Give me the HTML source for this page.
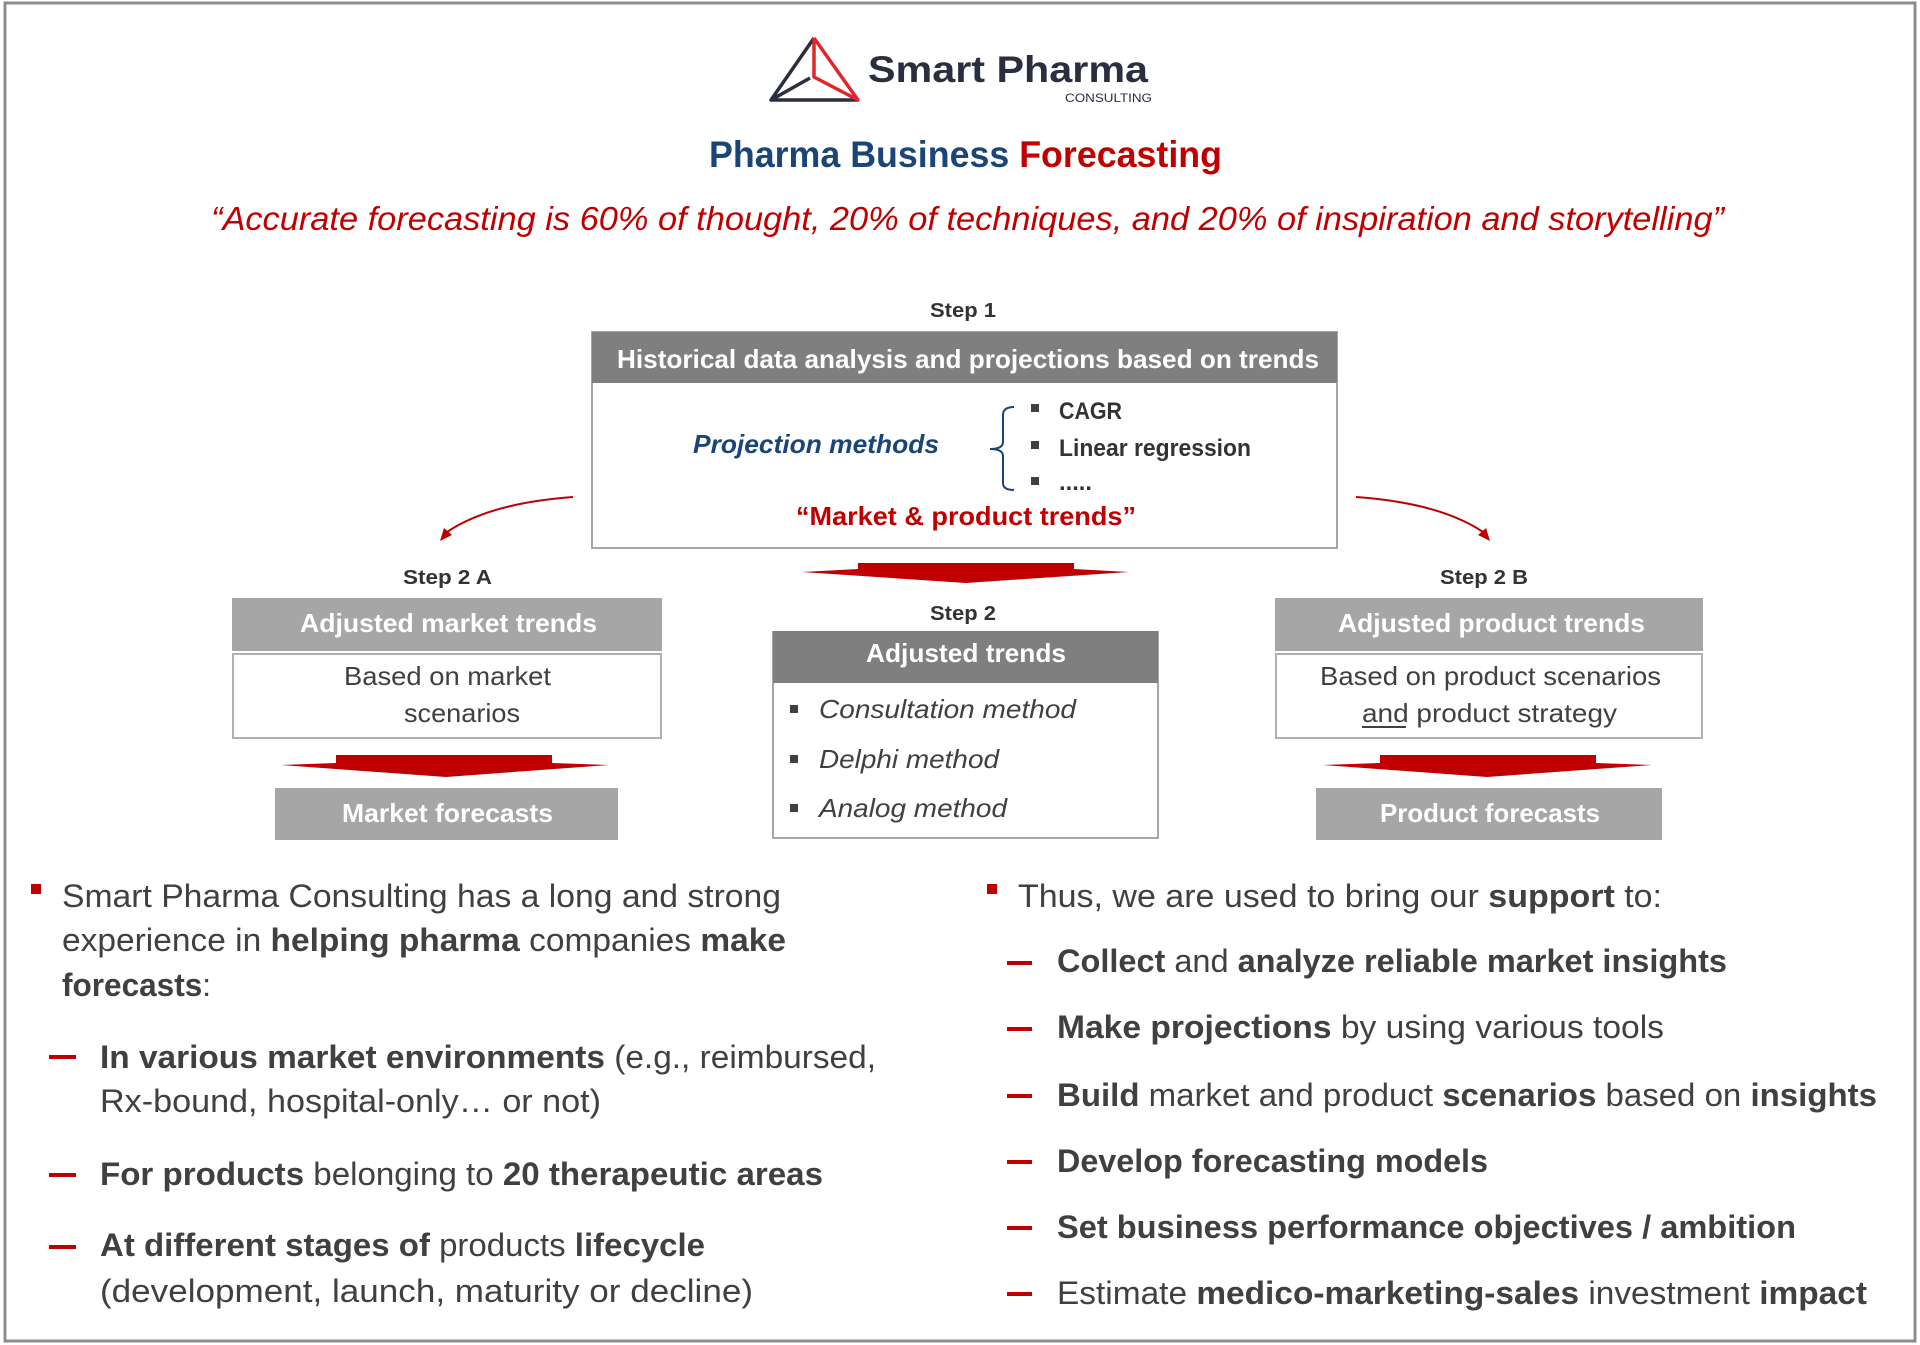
<!DOCTYPE html>
<html><head><meta charset="utf-8"><style>html,body{margin:0;padding:0;background:#fff}svg{display:block}text{font-family:"Liberation Sans",sans-serif}</style></head><body>
<svg width="1920" height="1345" viewBox="0 0 1920 1345" xmlns="http://www.w3.org/2000/svg">
<rect x="5" y="3" width="1910" height="1338" fill="#fff" stroke="#8c8c8c" stroke-width="3"/>
<!-- logo -->
<g fill="none" stroke-width="3.5" stroke-linejoin="round">
<path d="M814 38 L771 100 L858 100" stroke="#2b2e3f"/>
<path d="M771 100 L810 78" stroke="#2b2e3f"/>
<path d="M814 38 L814 77 L858 100 L814 38" stroke="#e0262b"/>
</g>
<text x="868" y="82" font-size="37" font-weight="bold" fill="#2b2e3f" textLength="280" lengthAdjust="spacingAndGlyphs">Smart Pharma</text>
<text x="1065" y="102" font-size="12" fill="#2b2e3f" textLength="87" lengthAdjust="spacingAndGlyphs">CONSULTING</text>
<!-- title -->
<text x="709" y="167" font-size="37" font-weight="bold" textLength="513" lengthAdjust="spacingAndGlyphs"><tspan fill="#1a4577">Pharma Business </tspan><tspan fill="#c00000">Forecasting</tspan></text>
<text x="211" y="230" font-size="33" font-style="italic" fill="#c00000" textLength="1513" lengthAdjust="spacingAndGlyphs">“Accurate forecasting is 60% of thought, 20% of techniques, and 20% of inspiration and storytelling”</text>
<!-- step 1 -->
<text x="930" y="317" font-size="20" font-weight="bold" fill="#333" textLength="66" lengthAdjust="spacingAndGlyphs">Step 1</text>
<rect x="592" y="332" width="745" height="216" fill="#fff" stroke="#a6a6a6" stroke-width="2"/>
<rect x="592" y="332" width="745" height="51" fill="#7f7f7f"/>
<text x="617" y="368" font-size="26" font-weight="bold" fill="#fff" textLength="702" lengthAdjust="spacingAndGlyphs">Historical data analysis and projections based on trends</text>
<text x="693" y="453" font-size="26" font-weight="bold" font-style="italic" fill="#1a4577" textLength="246" lengthAdjust="spacingAndGlyphs">Projection methods</text>
<path d="M1014 407 Q1003 407 1003 415 L1003 442 Q1003 449 990 449 Q1003 449 1003 456 L1003 483 Q1003 490 1014 490" fill="none" stroke="#1a4577" stroke-width="2"/>
<rect x="1031" y="404" width="8" height="8" fill="#404040"/>
<rect x="1031" y="441" width="8" height="8" fill="#404040"/>
<rect x="1031" y="477" width="8" height="8" fill="#404040"/>
<text x="1059" y="419" font-size="24" font-weight="bold" fill="#333" textLength="63" lengthAdjust="spacingAndGlyphs">CAGR</text>
<text x="1059" y="456" font-size="24" font-weight="bold" fill="#333" textLength="192" lengthAdjust="spacingAndGlyphs">Linear regression</text>
<text x="1059" y="490" font-size="24" font-weight="bold" fill="#333" textLength="33" lengthAdjust="spacingAndGlyphs">.....</text>
<text x="796" y="525" font-size="26" font-weight="bold" fill="#c00000" textLength="340" lengthAdjust="spacingAndGlyphs">“Market &amp; product trends”</text>
<!-- curved arrows -->
<path d="M573 497 Q490 503 447 532" fill="none" stroke="#c00000" stroke-width="2"/>
<path d="M440 541 L444 528 L452 535 Z" fill="#c00000"/>
<path d="M1356 497 Q1440 503 1483 532" fill="none" stroke="#c00000" stroke-width="2"/>
<path d="M1490 541 L1486 528 L1478 535 Z" fill="#c00000"/>
<!-- big arrows -->
<path d="M858 563 L1074 563 L1074 569 L1129 572 L966 583 L802 572 L858 569 Z" fill="#c00000"/>
<path d="M336 755 L552 755 L552 763 L609 765 L446 777 L281 765 L336 763 Z" fill="#c00000"/>
<path d="M1380 755 L1596 755 L1596 763 L1652 765 L1487 777 L1323 765 L1380 763 Z" fill="#c00000"/>
<!-- step 2A -->
<text x="403" y="584" font-size="20" font-weight="bold" fill="#333" textLength="89" lengthAdjust="spacingAndGlyphs">Step 2 A</text>
<rect x="232" y="598" width="430" height="53" fill="#a6a6a6"/>
<text x="300" y="632" font-size="26" font-weight="bold" fill="#fff" textLength="297" lengthAdjust="spacingAndGlyphs">Adjusted market trends</text>
<rect x="233" y="654" width="428" height="84" fill="#fff" stroke="#b0b0b0" stroke-width="2"/>
<text x="344" y="685" font-size="26" fill="#404040" textLength="207" lengthAdjust="spacingAndGlyphs">Based on market</text>
<text x="404" y="722" font-size="26" fill="#404040" textLength="116" lengthAdjust="spacingAndGlyphs">scenarios</text>
<rect x="275" y="788" width="343" height="52" fill="#a6a6a6"/>
<text x="342" y="822" font-size="26" font-weight="bold" fill="#fff" textLength="211" lengthAdjust="spacingAndGlyphs">Market forecasts</text>
<!-- step 2 -->
<text x="930" y="620" font-size="20" font-weight="bold" fill="#333" textLength="66" lengthAdjust="spacingAndGlyphs">Step 2</text>
<rect x="773" y="632" width="385" height="206" fill="#fff" stroke="#a6a6a6" stroke-width="2"/>
<rect x="773" y="631" width="385" height="52" fill="#7f7f7f"/>
<text x="866" y="662" font-size="26" font-weight="bold" fill="#fff" textLength="200" lengthAdjust="spacingAndGlyphs">Adjusted trends</text>
<rect x="790" y="705" width="8" height="8" fill="#404040"/>
<rect x="790" y="755" width="8" height="8" fill="#404040"/>
<rect x="790" y="804" width="8" height="8" fill="#404040"/>
<text x="819" y="718" font-size="26" font-style="italic" fill="#404040" textLength="257" lengthAdjust="spacingAndGlyphs">Consultation method</text>
<text x="819" y="768" font-size="26" font-style="italic" fill="#404040" textLength="180" lengthAdjust="spacingAndGlyphs">Delphi method</text>
<text x="819" y="817" font-size="26" font-style="italic" fill="#404040" textLength="188" lengthAdjust="spacingAndGlyphs">Analog method</text>
<!-- step 2B -->
<text x="1440" y="584" font-size="20" font-weight="bold" fill="#333" textLength="88" lengthAdjust="spacingAndGlyphs">Step 2 B</text>
<rect x="1275" y="598" width="428" height="53" fill="#a6a6a6"/>
<text x="1338" y="632" font-size="26" font-weight="bold" fill="#fff" textLength="307" lengthAdjust="spacingAndGlyphs">Adjusted product trends</text>
<rect x="1276" y="654" width="426" height="84" fill="#fff" stroke="#b0b0b0" stroke-width="2"/>
<text x="1320" y="685" font-size="26" fill="#404040" textLength="341" lengthAdjust="spacingAndGlyphs">Based on product scenarios</text>
<text x="1362" y="722" font-size="26" fill="#404040" textLength="255" lengthAdjust="spacingAndGlyphs">and product strategy</text>
<rect x="1362" y="726" width="44" height="2" fill="#404040"/>
<rect x="1316" y="788" width="346" height="52" fill="#a6a6a6"/>
<text x="1380" y="822" font-size="26" font-weight="bold" fill="#fff" textLength="220" lengthAdjust="spacingAndGlyphs">Product forecasts</text>
<!-- bottom left -->
<g fill="#404040" font-size="32">
<rect x="31" y="884" width="10" height="10" fill="#c00000"/>
<text x="62" y="907" textLength="719" lengthAdjust="spacingAndGlyphs">Smart Pharma Consulting has a long and strong</text>
<text x="62" y="951" textLength="724" lengthAdjust="spacingAndGlyphs">experience in <tspan font-weight="bold">helping pharma</tspan> companies <tspan font-weight="bold">make</tspan></text>
<text x="62" y="996" textLength="149" lengthAdjust="spacingAndGlyphs"><tspan font-weight="bold">forecasts</tspan>:</text>
<rect x="49" y="1055" width="27" height="4" fill="#c00000"/>
<text x="100" y="1068" textLength="776" lengthAdjust="spacingAndGlyphs"><tspan font-weight="bold">In various market environments</tspan> (e.g., reimbursed,</text>
<text x="100" y="1112" textLength="501" lengthAdjust="spacingAndGlyphs">Rx-bound, hospital-only… or not)</text>
<rect x="49" y="1173" width="27" height="4" fill="#c00000"/>
<text x="100" y="1185" textLength="723" lengthAdjust="spacingAndGlyphs"><tspan font-weight="bold">For products</tspan> belonging to <tspan font-weight="bold">20 therapeutic areas</tspan></text>
<rect x="49" y="1245" width="27" height="4" fill="#c00000"/>
<text x="100" y="1256" textLength="605" lengthAdjust="spacingAndGlyphs"><tspan font-weight="bold">At different stages of</tspan> products <tspan font-weight="bold">lifecycle</tspan></text>
<text x="100" y="1302" textLength="653" lengthAdjust="spacingAndGlyphs">(development, launch, maturity or decline)</text>
<!-- bottom right -->
<rect x="987" y="884" width="10" height="10" fill="#c00000"/>
<text x="1018" y="907" textLength="644" lengthAdjust="spacingAndGlyphs">Thus, we are used to bring our <tspan font-weight="bold">support</tspan> to:</text>
<rect x="1007" y="961" width="25" height="4" fill="#c00000"/>
<text x="1057" y="972" textLength="670" lengthAdjust="spacingAndGlyphs"><tspan font-weight="bold">Collect</tspan> and <tspan font-weight="bold">analyze reliable market insights</tspan></text>
<rect x="1007" y="1027" width="25" height="4" fill="#c00000"/>
<text x="1057" y="1038" textLength="607" lengthAdjust="spacingAndGlyphs"><tspan font-weight="bold">Make projections</tspan> by using various tools</text>
<rect x="1007" y="1094" width="25" height="4" fill="#c00000"/>
<text x="1057" y="1106" textLength="820" lengthAdjust="spacingAndGlyphs"><tspan font-weight="bold">Build</tspan> market and product <tspan font-weight="bold">scenarios</tspan> based on <tspan font-weight="bold">insights</tspan></text>
<rect x="1007" y="1160" width="25" height="4" fill="#c00000"/>
<text x="1057" y="1172" font-weight="bold" textLength="431" lengthAdjust="spacingAndGlyphs">Develop forecasting models</text>
<rect x="1007" y="1226" width="25" height="4" fill="#c00000"/>
<text x="1057" y="1238" font-weight="bold" textLength="739" lengthAdjust="spacingAndGlyphs">Set business performance objectives / ambition</text>
<rect x="1007" y="1292" width="25" height="4" fill="#c00000"/>
<text x="1057" y="1304" textLength="810" lengthAdjust="spacingAndGlyphs">Estimate <tspan font-weight="bold">medico-marketing-sales</tspan> investment <tspan font-weight="bold">impact</tspan></text>
</g>
</svg>
</body></html>
